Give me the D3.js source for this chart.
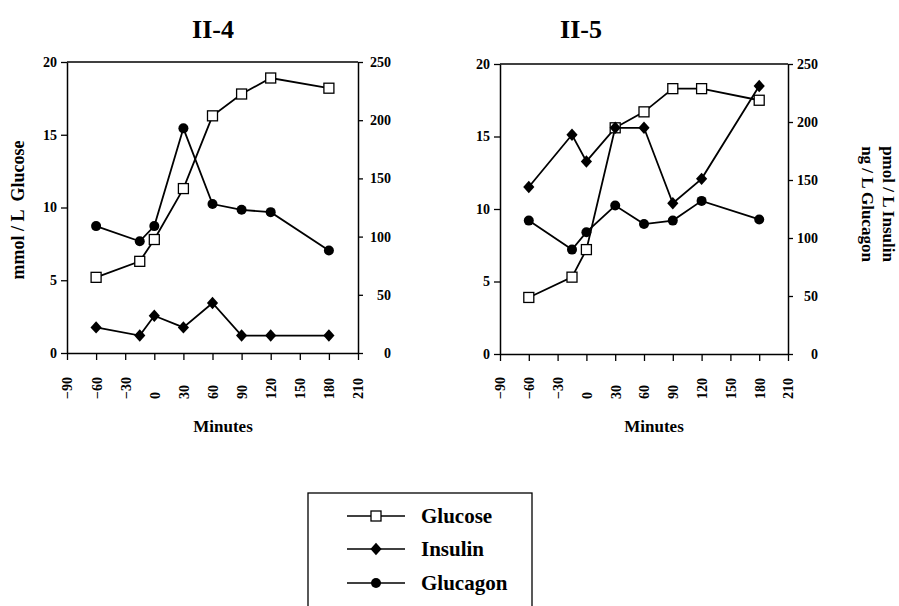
<!DOCTYPE html>
<html>
<head>
<meta charset="utf-8">
<script src="https://cdn.jsdelivr.net/npm/d3@7"></script>
<style>
  html, body { margin: 0; padding: 0; background: #fff; }
  svg { display: block; font-family: "Liberation Serif", "Times New Roman", serif; font-weight: bold; }
</style>
</head>
<body>
<svg id="chart" width="899" height="606"></svg>
<script>
// ---- data ----
const times = [-60, -15, 0, 30, 60, 90, 120, 180];
const xTicks = [-90, -60, -30, 0, 30, 60, 90, 120, 150, 180, 210];
const leftTicks = [0, 5, 10, 15, 20];
const rightTicks = [0, 50, 100, 150, 200, 250];

const glucoseII4  = [5.2, 6.3, 7.8, 11.3, 16.3, 17.8, 18.9, 18.2];
const insulinII4  = [22, 15, 32, 22, 43, 15, 15, 15];
const glucagonII4 = [109, 96, 109, 193, 128, 123, 121, 88];

const glucoseII5  = [3.9, 5.3, 7.2, 15.6, 16.7, 18.3, 18.3, 17.5];
const insulinII5  = [144, 189, 166, 195, 195, 130, 151, 231];
const glucagonII5 = [115, 90, 105, 128, 112, 115, 132, 116];

const panelTitles = ["II-4", "II-5"];
const seriesNames = ["Glucose", "Insulin", "Glucagon"];

// ---- layout ----
const svg = d3.select("#chart");
const panels = [
  { title: panelTitles[0], x0: 67, x1: 358, yTop: 62, yBot: 353, titleX: 213, rightLabelX: 33, minutesX: 223,
    glucose: glucoseII4, insulin: insulinII4, glucagon: glucagonII4 },
  { title: panelTitles[1], x0: 500, x1: 788, yTop: 64, yBot: 354, titleX: 581, rightLabelX: 30, minutesX: 654,
    glucose: glucoseII5, insulin: insulinII5, glucagon: glucagonII5 }
];

const diamond = "M0,-6.2L5.6,0L0,6.2L-5.6,0Z";
const FONT = "Liberation Serif";

function marker(g, type, x, y) {
  if (type === "square") {
    g.append("rect").attr("x", x - 5).attr("y", y - 5).attr("width", 10).attr("height", 10)
      .attr("fill", "#fff").attr("stroke", "#000").attr("stroke-width", 1.3);
  } else if (type === "diamond") {
    g.append("path").attr("d", diamond).attr("transform", `translate(${x},${y})`).attr("fill", "#000");
  } else {
    g.append("circle").attr("cx", x).attr("cy", y).attr("r", 5).attr("fill", "#000");
  }
}

panels.forEach(p => {
  const x = d3.scaleLinear().domain([-90, 210]).range([p.x0, p.x1]);
  const yL = d3.scaleLinear().domain([0, 20]).range([p.yBot, p.yTop]);
  const yR = d3.scaleLinear().domain([0, 250]).range([p.yBot, p.yTop]);
  const g = svg.append("g");

  // title
  g.append("text").attr("x", p.titleX).attr("y", 38).attr("text-anchor", "middle")
    .attr("font-size", 26).text(p.title);

  // top border
  g.append("line").attr("x1", p.x0).attr("x2", p.x1).attr("y1", p.yTop).attr("y2", p.yTop)
    .attr("stroke", "#000").attr("stroke-width", 1.5);

  // left axis
  const la = g.append("g").attr("transform", `translate(${p.x0},0)`)
    .call(d3.axisLeft(yL).tickValues(leftTicks).tickSize(6).tickPadding(4).tickSizeOuter(0));

  // right axis
  const ra = g.append("g").attr("transform", `translate(${p.x1},0)`)
    .call(d3.axisRight(yR).tickValues(rightTicks).tickSize(5).tickSizeOuter(0));
  ra.selectAll("text").attr("text-anchor", "end").attr("x", p.rightLabelX);

  // bottom axis
  const ba = g.append("g").attr("transform", `translate(0,${p.yBot})`)
    .call(d3.axisBottom(x).tickValues(xTicks).tickSize(7).tickSizeOuter(0));
  ba.selectAll("text").attr("text-anchor", "start").attr("y", 0).attr("dy", "0.35em")
    .attr("transform", `translate(0,${399 - p.yBot}) rotate(-90)`);

  [la, ra, ba].forEach(a => {
    a.attr("font-family", FONT).attr("font-size", 14).attr("font-weight", "bold");
    a.selectAll(".domain").attr("stroke-width", 1.5);
    a.selectAll(".tick line").attr("stroke-width", 1.3);
  });

  // Minutes
  g.append("text").attr("x", p.minutesX).attr("y", 432).attr("text-anchor", "middle")
    .attr("font-size", 17).text("Minutes");

  const line = d3.line();
  const series = [
    { vals: p.glucose,  scale: yL, type: "square" },
    { vals: p.insulin,  scale: yR, type: "diamond" },
    { vals: p.glucagon, scale: yR, type: "circle" }
  ];
  series.forEach(s => {
    const pts = times.map((t, i) => [x(t), s.scale(s.vals[i])]);
    g.append("path").attr("d", line(pts)).attr("fill", "none").attr("stroke", "#000").attr("stroke-width", 1.8);
  });
  series.forEach(s => {
    times.forEach((t, i) => marker(g, s.type, x(t), s.scale(s.vals[i])));
  });
});

// y-axis titles
svg.append("text").attr("transform", "translate(18,210) rotate(-90)").attr("text-anchor", "middle")
  .attr("dy", "0.35em").attr("font-size", 18).attr("xml:space", "preserve").text("mmol / L  Glucose");
const rt = svg.append("text").attr("transform", "translate(889,204) rotate(90)").attr("text-anchor", "middle")
  .attr("font-size", 17);
rt.append("tspan").attr("x", 0).attr("dy", "0.35em").text("pmol / L Insulin");
rt.append("tspan").attr("x", 0).attr("dy", 21).text("ng / L Glucagon");

// legend
const lg = svg.append("g");
lg.append("rect").attr("x", 308).attr("y", 493).attr("width", 224).attr("height", 120)
  .attr("fill", "none").attr("stroke", "#000").attr("stroke-width", 1.3);
const legendRows = [516, 549, 583];
const legendTypes = ["square", "diamond", "circle"];
seriesNames.forEach((name, i) => {
  const y = legendRows[i];
  lg.append("line").attr("x1", 347).attr("x2", 405).attr("y1", y).attr("y2", y)
    .attr("stroke", "#000").attr("stroke-width", 1.6);
  marker(lg, legendTypes[i], 376, y);
  lg.append("text").attr("x", 421).attr("y", y).attr("dy", "0.35em").attr("font-size", 21).text(name);
});
</script>
</body>
</html>
